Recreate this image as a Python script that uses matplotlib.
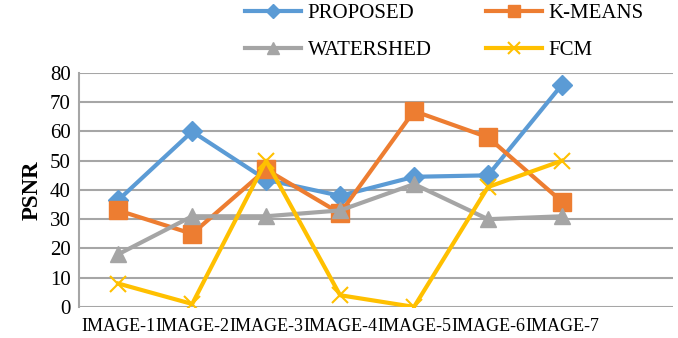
import numpy as np
import matplotlib
matplotlib.use('Agg')
import matplotlib.pyplot as plt

plt.rcParams['font.family'] = ['Liberation Serif', 'DejaVu Serif']

categories = ['IMAGE-1', 'IMAGE-2', 'IMAGE-3', 'IMAGE-4', 'IMAGE-5', 'IMAGE-6', 'IMAGE-7']
proposed = [36.5, 60, 43.5, 38, 44.5, 45, 76]
kmeans = [33, 25, 47, 32, 67, 58, 36]
watershed = [18, 31, 31, 33, 42, 30, 31]
fcm = [8, 1, 50, 4, 0, 41, 50]

fig = plt.figure(figsize=(6.78, 3.38), dpi=100)
ax = fig.add_axes([0.1165, 0.092, 0.876, 0.692])

x = np.arange(len(categories))
ax.plot(x, proposed, color='#5B9BD5', lw=3, marker='D', ms=10, label='PROPOSED')
ax.plot(x, kmeans, color='#ED7D31', lw=3, marker='s', ms=13, label='K-MEANS')
ax.plot(x, watershed, color='#A5A5A5', lw=3, marker='^', ms=12, label='WATERSHED')
ax.plot(x, fcm, color='#FFC000', lw=3, marker='x', ms=12, mew=1.5, label='FCM')

ax.set_xlim(-0.53, 7.5)
ax.set_ylim(0, 80)
ax.set_yticks(range(0, 81, 10))
ax.set_xticks(x)
ax.set_xticklabels(categories, fontsize=13)
ax.tick_params(axis='y', labelsize=15, length=0, pad=6)
ax.tick_params(axis='x', length=0, pad=8)
ax.yaxis.grid(True, color='#A6A6A6', lw=1.5)
ax.set_axisbelow(True)
for s in ['top', 'right', 'bottom']:
    ax.spines[s].set_visible(False)
ax.spines['left'].set_color('#A6A6A6')
ax.spines['left'].set_linewidth(1.5)
ax.set_ylabel('PSNR', fontsize=16.5, fontweight='bold', labelpad=5)

h, l = ax.get_legend_handles_labels()
order = [0, 2, 1, 3]
fig.legend([h[i] for i in order], [l[i] for i in order], ncol=2, frameon=False,
           loc='upper left', bbox_to_anchor=(245 / 678, 0.99), borderpad=0,
           borderaxespad=0, fontsize=15, handlelength=2.7, handletextpad=0.3,
           labelspacing=0.85, columnspacing=2.6, markerscale=0.7)

fig.savefig('out.png', dpi=100)
